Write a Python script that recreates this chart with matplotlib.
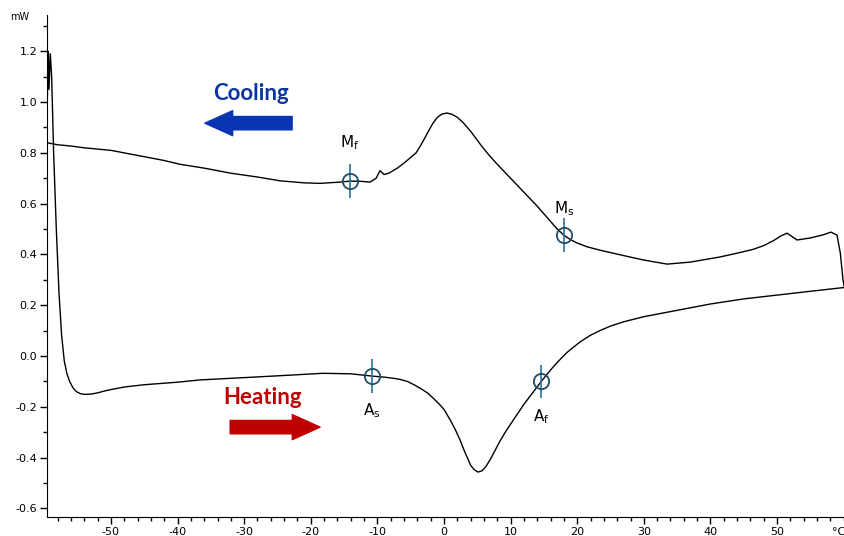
import matplotlib
matplotlib.use("Agg")
import matplotlib.pyplot as plt
from matplotlib.ticker import MultipleLocator

plt.rcParams["axes.unicode_minus"] = False

# cooling run (upper curve), temperature in degC, heat flow in mW
cool_t = [-59.6, -58, -56, -54, -52, -50, -48, -45, -42, -39.6, -36, -32, -28,
          -24.6, -21, -18.6, -15.6, -14.1, -12.5, -11.1, -10.2, -9.6, -9.0, -8.3,
          -7, -6, -5, -4.2, -3.6, -3, -2.3, -1.65, -1, -0.3, 0.45, 1.2, 2, 2.85,
          4, 5, 5.7, 6.8, 8, 10, 12, 14, 16, 17, 18, 19, 20, 21.5, 23.4, 27.9, 30,
          33.5, 37, 41.4, 44, 46.4, 48, 49.5, 50.5, 51.5, 53, 55, 57, 58.1, 59,
          59.5, 59.9, 60.1]
cool_q = [0.84, 0.832, 0.827, 0.82, 0.815, 0.81, 0.80, 0.785, 0.77, 0.755, 0.74,
          0.72, 0.705, 0.69, 0.682, 0.68, 0.685, 0.689, 0.688, 0.685, 0.70, 0.73,
          0.715, 0.72, 0.74, 0.76, 0.782, 0.80, 0.825, 0.853, 0.887, 0.917, 0.94,
          0.953, 0.957, 0.952, 0.94, 0.92, 0.885, 0.85, 0.825, 0.79, 0.755, 0.70,
          0.645, 0.59, 0.53, 0.50, 0.476, 0.458, 0.445, 0.43, 0.417, 0.39, 0.378,
          0.362, 0.37, 0.39, 0.405, 0.42, 0.435, 0.455, 0.472, 0.484, 0.457, 0.465,
          0.478, 0.488, 0.476, 0.405, 0.30, 0.27]

# heating run (lower curve)
heat_t = [-59.6, -59.4, -59.3, -59.1, -58.9, -58.6, -58.2, -57.8, -57.4, -57.0,
          -56.6, -56.2, -55.7, -55.2, -54.6, -54, -53, -52, -51, -50, -48, -45,
          -40, -36.6, -30, -25, -18.2, -14, -10.8, -9, -7.5, -6.6, -5.5, -4.5,
          -3.5, -2.5, -1.65, -0.8, 0, 1, 1.7, 2.4, 3, 3.5, 4, 4.5, 5.1, 5.7, 6.3,
          7, 7.7, 8.4, 9.2, 10, 12, 14.6, 16, 17, 18.5, 20.4, 22, 23.4, 25, 27, 30,
          35, 40, 45, 50, 55, 60.1]
heat_q = [0.95, 1.2, 1.05, 1.19, 1.10, 0.8, 0.5, 0.25, 0.08, -0.02, -0.07, -0.10,
          -0.125, -0.14, -0.148, -0.151, -0.15, -0.145, -0.138, -0.132, -0.122,
          -0.113, -0.103, -0.094, -0.085, -0.078, -0.068, -0.07, -0.079, -0.083,
          -0.088, -0.092, -0.10, -0.113, -0.128, -0.145, -0.165, -0.187, -0.21,
          -0.255, -0.29, -0.33, -0.37, -0.40, -0.43, -0.447, -0.457, -0.452,
          -0.435, -0.405, -0.37, -0.335, -0.30, -0.268, -0.19, -0.10, -0.055,
          -0.025, 0.015, 0.055, 0.082, 0.10, 0.118, 0.135, 0.155, 0.18, 0.205,
          0.225, 0.24, 0.255, 0.27]

# transformation temperatures marked on the curves
pt_names = [r"$\mathregular{M_f}$", r"$\mathregular{M_s}$",
            r"$\mathregular{A_s}$", r"$\mathregular{A_f}$"]
pt_t = [-14.1, 18.0, -10.8, 14.6]
pt_q = [0.689, 0.476, -0.079, -0.10]
pt_dy = [0.15, 0.105, -0.135, -0.14]

fig = plt.figure(figsize=(8.45, 5.36), dpi=100)
ax = fig.add_axes([0.0556, 0.0354, 0.9444, 0.9366])

ax.plot(cool_t, cool_q, color="black", lw=1.0)
ax.plot(heat_t, heat_q, color="black", lw=1.0)

ax.errorbar(pt_t, pt_q, yerr=0.066, fmt="o", ms=11, mfc="none", mec="#1f4e66",
            mew=1.3, ecolor="#2b6f96", elinewidth=1.2, capsize=0, zorder=5)
for name, t, q, dy in zip(pt_names, pt_t, pt_q, pt_dy):
    ax.text(t, q + dy, name, fontsize=11, ha="center", va="center",
            family=["DejaVu Sans"])

# direction annotations
ax.text(-29, 1.035, "Cooling", color="#0a35a0", fontsize=16, fontweight="bold",
        family=["Lato", "DejaVu Sans"], ha="center", va="center")
ax.annotate("", xy=(-35.9, 0.917), xytext=(-22.8, 0.917),
            arrowprops=dict(arrowstyle="simple,head_length=1.0,head_width=0.9,tail_width=0.48",
                            color="#0a35b0", shrinkA=0, shrinkB=0, mutation_scale=20))
ax.text(-27.2, -0.165, "Heating", color="#c00000", fontsize=16, fontweight="bold",
        family=["Lato", "DejaVu Sans"], ha="center", va="center")
ax.annotate("", xy=(-18.6, -0.28), xytext=(-32.1, -0.28),
            arrowprops=dict(arrowstyle="simple,head_length=1.0,head_width=0.9,tail_width=0.48",
                            color="#c00000", shrinkA=0, shrinkB=0, mutation_scale=20))

ax.set_xlim(-59.6, 60.2)
ax.set_ylim(-0.634, 1.343)
ax.spines["top"].set_visible(False)
ax.spines["right"].set_visible(False)
ax.xaxis.set_minor_locator(MultipleLocator(2))
ax.yaxis.set_minor_locator(MultipleLocator(0.1))
ax.set_xticks([-50, -40, -30, -20, -10, 0, 10, 20, 30, 40, 50])
ax.set_yticks([-0.6, -0.4, -0.2, 0.0, 0.2, 0.4, 0.6, 0.8, 1.0, 1.2])
ax.set_yticklabels(["%.1f" % v for v in ax.get_yticks()])
ax.tick_params(which="major", direction="out", length=5, width=1, labelsize=8, pad=2)
ax.tick_params(which="minor", direction="out", length=3, width=1)

ax.text(-0.034, 0.996, "mW", transform=ax.transAxes, fontsize=7, ha="center", va="center")
ax.annotate("°C", xy=(59.2, 0), xycoords=("data", "axes fraction"),
            xytext=(0, -7), textcoords="offset points", fontsize=8, ha="center", va="top")

fig.savefig("out.png", dpi=100)
